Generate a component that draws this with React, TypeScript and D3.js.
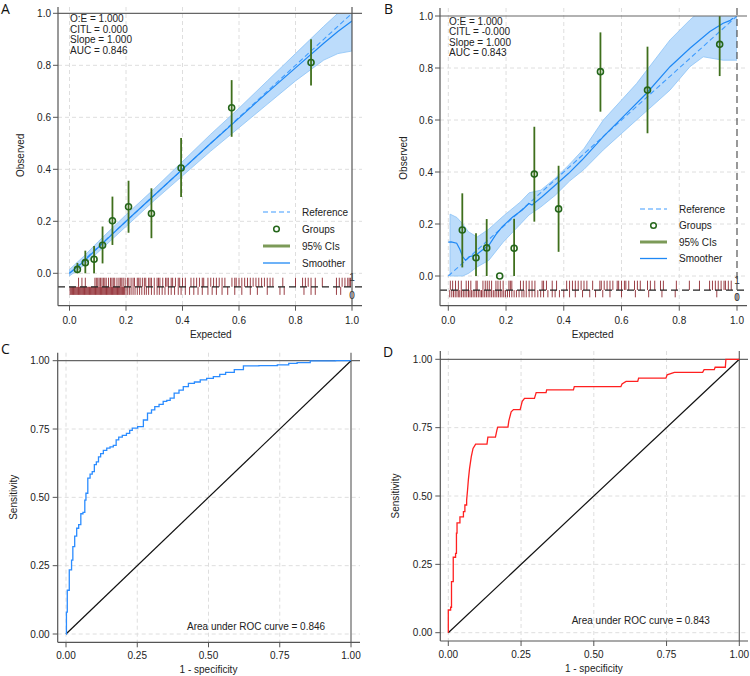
import React from 'react';
import * as d3 from 'd3';

const FONT = '"Liberation Sans", Arial, sans-serif';

// ---- Panel A: calibration (development) ----
const groupXA = [0.028, 0.056, 0.087, 0.117, 0.152, 0.209, 0.29, 0.395, 0.574, 0.855];
const groupYA = [0.015, 0.041, 0.054, 0.108, 0.202, 0.256, 0.23, 0.405, 0.637, 0.811];
const groupLoA = [0.0, 0.0, 0.0, 0.038, 0.109, 0.156, 0.135, 0.293, 0.525, 0.722];
const groupHiA = [0.04, 0.087, 0.105, 0.18, 0.295, 0.356, 0.327, 0.52, 0.743, 0.9];

const smoothXA = [0, 0.05, 0.1, 0.2, 0.3, 0.4, 0.5, 0.6, 0.7, 0.8, 0.9, 0.95, 1.0];
const smoothYA = [0.0, 0.045, 0.098, 0.2, 0.3, 0.4, 0.5, 0.597, 0.695, 0.79, 0.885, 0.93, 0.97];
const bandLoA = [-0.01, 0.03, 0.08, 0.18, 0.28, 0.375, 0.47, 0.56, 0.65, 0.74, 0.82, 0.845, 0.855];
const bandHiA = [0.015, 0.065, 0.12, 0.225, 0.325, 0.43, 0.535, 0.635, 0.74, 0.845, 0.95, 1.0, 1.06];

const rug1A = [0.032, 0.044, 0.056, 0.09, 0.095, 0.1, 0.105, 0.11, 0.115, 0.12, 0.125, 0.13, 0.138, 0.145,
  0.15, 0.155, 0.16, 0.168, 0.175, 0.18, 0.185, 0.19, 0.197, 0.205, 0.21, 0.218, 0.225, 0.23, 0.24, 0.245,
  0.25, 0.258, 0.265, 0.27, 0.28, 0.285, 0.29, 0.3, 0.31, 0.315, 0.32, 0.33, 0.34, 0.345, 0.35, 0.36, 0.365,
  0.375, 0.385, 0.39, 0.4, 0.41, 0.43, 0.44, 0.45, 0.46, 0.47, 0.475, 0.49, 0.5, 0.51, 0.52, 0.53, 0.54, 0.55,
  0.575, 0.585, 0.59, 0.6, 0.61, 0.62, 0.63, 0.64, 0.65, 0.66, 0.67, 0.68, 0.69, 0.7, 0.71, 0.72, 0.755, 0.8,
  0.825, 0.835, 0.845, 0.855, 0.87, 0.895, 0.945, 0.955, 0.965, 0.975, 0.985, 0.99, 0.995];
const rug0A = [0.002, 0.005, 0.008, 0.011, 0.014, 0.017, 0.02, 0.023, 0.026, 0.029, 0.032, 0.035, 0.038,
  0.041, 0.044, 0.047, 0.05, 0.053, 0.056, 0.059, 0.062, 0.065, 0.068, 0.071, 0.074, 0.077, 0.08, 0.083,
  0.086, 0.089, 0.092, 0.095, 0.098, 0.101, 0.104, 0.107, 0.11, 0.113, 0.116, 0.119, 0.122, 0.125, 0.128,
  0.131, 0.134, 0.137, 0.14, 0.143, 0.146, 0.149, 0.152, 0.155, 0.158, 0.161, 0.164, 0.167, 0.17, 0.173,
  0.176, 0.179, 0.182, 0.185, 0.188, 0.191, 0.195, 0.2, 0.206, 0.212, 0.218, 0.225, 0.232, 0.24, 0.248,
  0.256, 0.265, 0.272, 0.28, 0.29, 0.3, 0.31, 0.318, 0.328, 0.338, 0.35, 0.36, 0.372, 0.385, 0.395, 0.41,
  0.425, 0.44, 0.455, 0.47, 0.49, 0.505, 0.52, 0.54, 0.56, 0.585, 0.61, 0.64, 0.665, 0.7, 0.745, 0.76,
  0.83, 0.855, 0.87, 0.945, 0.96];
const statsA = ['O:E = 1.000', 'CITL = 0.000', 'Slope = 1.000', 'AUC = 0.846'];

// ---- Panel B: calibration (validation) ----
const groupXB = [0.0485, 0.096, 0.133, 0.178, 0.228, 0.298, 0.382, 0.527, 0.69, 0.94];
const groupYB = [0.177, 0.07, 0.108, 0.0, 0.107, 0.392, 0.258, 0.786, 0.715, 0.891];
const groupLoB = [0.033, 0.0, 0.0, 0.0, 0.0, 0.209, 0.093, 0.632, 0.549, 0.769];
const groupHiB = [0.318, 0.164, 0.219, 0.0, 0.22, 0.574, 0.424, 0.937, 0.882, 1.0];

const smoothXB = [0, 0.01, 0.029, 0.04, 0.05, 0.06, 0.072, 0.095, 0.118, 0.141, 0.164, 0.187, 0.222, 0.256,
  0.279, 0.29, 0.325, 0.371, 0.417, 0.463, 0.537, 0.606, 0.687, 0.768, 0.837, 0.906, 0.952, 0.975, 0.986];
const smoothYB = [0.13, 0.131, 0.126, 0.103, 0.074, 0.06, 0.074, 0.08, 0.1, 0.119, 0.158, 0.19, 0.226, 0.254,
  0.279, 0.273, 0.305, 0.35, 0.395, 0.446, 0.536, 0.613, 0.703, 0.805, 0.876, 0.94, 0.972, 0.982, 0.991];
const bandXB = [0.006, 0.03, 0.05, 0.07, 0.1, 0.14, 0.19, 0.25, 0.28, 0.32, 0.37, 0.42, 0.47, 0.537, 0.652,
  0.768, 0.837, 0.883, 0.952, 1.0];
const bandLoB = [0.0, 0.0, 0.0, 0.01, 0.035, 0.06, 0.13, 0.2, 0.235, 0.265, 0.31, 0.365, 0.41, 0.485, 0.6,
  0.715, 0.805, 0.843, 0.83, 0.83];
const bandHiB = [0.238, 0.225, 0.2, 0.17, 0.15, 0.18, 0.23, 0.285, 0.32, 0.33, 0.375, 0.43, 0.49, 0.6, 0.74,
  0.908, 0.985, 1.03, 1.08, 1.1];

const rug1B = [0.007, 0.015, 0.025, 0.035, 0.045, 0.062, 0.07, 0.078, 0.096, 0.1, 0.12, 0.128, 0.135, 0.142,
  0.15, 0.165, 0.172, 0.18, 0.19, 0.21, 0.215, 0.22, 0.25, 0.26, 0.27, 0.28, 0.29, 0.3, 0.325, 0.33, 0.34,
  0.36, 0.375, 0.41, 0.42, 0.43, 0.44, 0.45, 0.46, 0.47, 0.48, 0.5, 0.525, 0.53, 0.54, 0.55, 0.56, 0.57,
  0.585, 0.59, 0.6, 0.61, 0.615, 0.625, 0.645, 0.655, 0.665, 0.69, 0.7, 0.715, 0.735, 0.745, 0.79, 0.835,
  0.87, 0.905, 0.915, 0.925, 0.935, 0.945, 0.955, 0.96, 0.97, 0.98];
const rug0B = [0.005, 0.012, 0.018, 0.024, 0.03, 0.036, 0.04, 0.046, 0.052, 0.058, 0.064, 0.07, 0.075, 0.08,
  0.086, 0.092, 0.098, 0.104, 0.11, 0.115, 0.12, 0.126, 0.132, 0.138, 0.144, 0.15, 0.156, 0.162, 0.168,
  0.174, 0.18, 0.186, 0.192, 0.198, 0.205, 0.212, 0.22, 0.228, 0.236, 0.245, 0.255, 0.262, 0.27, 0.28,
  0.29, 0.3, 0.31, 0.32, 0.33, 0.345, 0.36, 0.37, 0.385, 0.4, 0.42, 0.44, 0.465, 0.49, 0.51, 0.535, 0.56,
  0.6, 0.648, 0.694, 0.74, 0.786, 0.93];
const statsB = ['O:E = 1.000', 'CITL = -0.000', 'Slope = 1.000', 'AUC = 0.843'];

// ---- Panel C / D: ROC curves ----
const fprC = [0, 0.003, 0.006, 0.017, 0.022, 0.026, 0.035, 0.04, 0.049, 0.055, 0.064, 0.068, 0.072, 0.081,
  0.088, 0.096, 0.103, 0.11, 0.118, 0.125, 0.137, 0.149, 0.16, 0.172, 0.18, 0.19, 0.205, 0.219, 0.228, 0.237,
  0.266, 0.277, 0.295, 0.305, 0.318, 0.335, 0.347, 0.36, 0.371, 0.388, 0.405, 0.418, 0.441, 0.46, 0.482,
  0.505, 0.529, 0.55, 0.57, 0.611, 0.634, 0.72, 0.763, 0.8, 0.822, 0.892, 1];
const tprC = [0, 0.08, 0.16, 0.235, 0.27, 0.32, 0.358, 0.387, 0.4, 0.44, 0.445, 0.49, 0.515, 0.57, 0.585,
  0.594, 0.62, 0.63, 0.648, 0.66, 0.672, 0.68, 0.685, 0.69, 0.71, 0.72, 0.727, 0.734, 0.745, 0.753, 0.759,
  0.783, 0.808, 0.82, 0.832, 0.84, 0.851, 0.855, 0.863, 0.881, 0.892, 0.905, 0.917, 0.922, 0.93, 0.935,
  0.942, 0.95, 0.957, 0.967, 0.981, 0.982, 0.985, 0.99, 0.993, 0.999, 1];

const fprD = [0, 0, 0.008, 0.008, 0.011, 0.011, 0.017, 0.017, 0.025, 0.025, 0.028, 0.028, 0.03, 0.03, 0.04,
  0.04, 0.052, 0.052, 0.057, 0.057, 0.063, 0.063, 0.066, 0.069, 0.073, 0.079, 0.085, 0.094, 0.133, 0.136,
  0.162, 0.167, 0.17, 0.205, 0.208, 0.216, 0.224, 0.247, 0.254, 0.262, 0.296, 0.302, 0.336, 0.338, 0.43,
  0.433, 0.593, 0.597, 0.611, 0.651, 0.654, 0.748, 0.752, 0.777, 0.874, 0.879, 0.914, 0.917, 0.952, 0.954, 1];
const tprD = [0, 0.083, 0.083, 0.093, 0.093, 0.187, 0.187, 0.276, 0.276, 0.29, 0.29, 0.364, 0.364, 0.402,
  0.402, 0.424, 0.424, 0.443, 0.443, 0.467, 0.467, 0.485, 0.52, 0.56, 0.6, 0.644, 0.674, 0.69, 0.69, 0.715,
  0.715, 0.741, 0.752, 0.752, 0.775, 0.808, 0.816, 0.816, 0.846, 0.857, 0.857, 0.878, 0.878, 0.888, 0.888,
  0.9, 0.9, 0.91, 0.919, 0.919, 0.931, 0.931, 0.943, 0.952, 0.952, 0.962, 0.962, 0.971, 0.971, 1.0, 1.0];

const calTicks = [0, 0.2, 0.4, 0.6, 0.8, 1.0];
const rocTicks = [0, 0.25, 0.5, 0.75, 1.0];

const GRID = '#dedede';
const AXIS = '#555';
const TEXT = '#222';
const RUG = '#8a1f26';

const zip = (xs, ys) => xs.map((x, i) => ({ x, y: ys[i] }));

const CalPanel = ({ g, gx, gy, glo, ghi, sx, sy, bx, blo, bhi, rug1, rug0, stats }) => {
  const x = d3.scaleLinear().domain([0, 1]).range(g.xr);
  const y = d3.scaleLinear().domain([0, 1]).range(g.yr);
  const fmt = d3.format('.1f');
  const band = d3.area()
    .x(d => x(d.x))
    .y0(d => y(d.lo))
    .y1(d => y(d.hi));
  const line = d3.line().x(d => x(d.x)).y(d => y(d.y));
  const bandData = bx.map((v, i) => ({ x: v, lo: blo[i], hi: bhi[i] }));
  const clipId = 'clip' + g.letter;

  return (
    <g fontFamily={FONT}>
      <defs>
        <clipPath id={clipId}>
          <rect x={g.axisX} y={y(1)} width={x(1) - g.axisX} height={g.axisY - y(1)} />
        </clipPath>
      </defs>
      {/* gridlines */}
      {calTicks.slice(0, -1).map(t => (
        <line key={'gx' + t} x1={x(t)} x2={x(t)} y1={g.top} y2={g.axisY} stroke={GRID} strokeDasharray="4,3" />
      ))}
      {calTicks.slice(0, -1).map(t => (
        <line key={'gy' + t} x1={g.axisX} x2={g.right} y1={y(t)} y2={y(t)} stroke={GRID} strokeDasharray="4,3" />
      ))}

      {/* smoother CI band */}
      <g clipPath={`url(#${clipId})`}>
        <path d={band(bandData)} fill="#bcdcfb" stroke="#8cc3f6" strokeWidth={0.8} />
        <path d={line([{ x: 0, y: 0 }, { x: 1, y: 1 }])} stroke="#3f9cff" strokeWidth={1.1} strokeDasharray="5,3" fill="none" />
        <path d={line(zip(sx, sy))} stroke="#1e88f5" strokeWidth={1.2} fill="none" />
      </g>

      {/* groups with CIs */}
      {gx.map((v, i) => (
        <line key={'ci' + i} x1={x(v)} x2={x(v)} y1={y(glo[i])} y2={y(ghi[i])}
          stroke="#3f6f1c" strokeWidth={1.8} />
      ))}
      {gx.map((v, i) => (
        <circle key={'gp' + i} cx={x(v)} cy={y(gy[i])} r={3} fill="none" stroke="#24661a" strokeWidth={1.6} />
      ))}

      {/* rug */}
      {rug0.map((v, i) => (
        <line key={'r0' + i} x1={x(v)} x2={x(v)} y1={y(g.rugLine)} y2={y(g.rugBot)}
          stroke={RUG} strokeOpacity={0.85} strokeWidth={1} />
      ))}
      {rug1.map((v, i) => (
        <line key={'r1' + i} x1={x(v)} x2={x(v)} y1={y(g.rugLine)} y2={y(g.rugTop)}
          stroke={RUG} strokeOpacity={0.85} strokeWidth={1} />
      ))}
      <line x1={g.axisX} x2={g.right} y1={y(g.rugLine)} y2={y(g.rugLine)} stroke="#222" strokeWidth={1.2} strokeDasharray="7,4" />
      <text x={x(1)} y={y(g.rugTop) + 3} fontSize={10} textAnchor="middle" fill={TEXT}>1</text>
      <text x={x(1)} y={y(g.rugBot) + 4} fontSize={10} textAnchor="middle" fill={TEXT}>0</text>

      {/* frame lines at 1 */}
      <line x1={g.axisX} x2={g.right} y1={y(1)} y2={y(1)} stroke="#666" strokeWidth={1.2} />
      <line x1={x(1)} x2={x(1)} y1={g.top} y2={g.axisY} stroke="#555" strokeWidth={1.2}
        strokeDasharray={g.vdash ? '7,4' : undefined} />

      {/* axes */}
      <line x1={g.axisX} x2={g.axisX} y1={g.top} y2={g.axisY} stroke={AXIS} strokeWidth={1.2} />
      <line x1={g.axisX} x2={g.right} y1={g.axisY} y2={g.axisY} stroke={AXIS} strokeWidth={1.2} />
      {calTicks.map(t => (
        <g key={'ty' + t}>
          <line x1={g.axisX - 5} x2={g.axisX} y1={y(t)} y2={y(t)} stroke={AXIS} />
          <text x={g.axisX - 7} y={y(t) + 3.5} fontSize={10} textAnchor="end" fill={TEXT}>{fmt(t)}</text>
        </g>
      ))}
      {calTicks.map(t => (
        <g key={'tx' + t}>
          <line x1={x(t)} x2={x(t)} y1={g.axisY} y2={g.axisY + 5} stroke={AXIS} />
          <text x={x(t)} y={g.axisY + 18} fontSize={10} textAnchor="middle" fill={TEXT}>{fmt(t)}</text>
        </g>
      ))}
      <text x={(x(0) + x(1)) / 2} y={338} fontSize={10} textAnchor="middle" fill={TEXT}>Expected</text>
      <text transform={`translate(${g.obsX},${(y(0) + y(1)) / 2 + 12}) rotate(-90)`} fontSize={10}
        textAnchor="middle" fill={TEXT}>Observed</text>

      {/* stats */}
      {stats.map((s, i) => (
        <text key={s} x={g.statsX} y={g.statsY + i * 10.5} fontSize={10} fill={TEXT}>{s}</text>
      ))}

      {/* legend */}
      <g transform={`translate(${g.legX},${g.legY})`} fontSize={10} fill={TEXT}>
        <line x1={0} x2={27} y1={0} y2={0} stroke="#3f9cff" strokeWidth={1.2} strokeDasharray="5,3" />
        <text x={39} y={3.5}>Reference</text>
        <circle cx={13.5} cy={g.legStep} r={2.8} fill="none" stroke="#24661a" strokeWidth={1.5} />
        <text x={39} y={g.legStep + 3.5}>Groups</text>
        <line x1={0} x2={27} y1={g.legStep * 2} y2={g.legStep * 2} stroke="#7c9a58" strokeWidth={3} />
        <text x={39} y={g.legStep * 2 + 3.5}>95% CIs</text>
        <line x1={0} x2={27} y1={g.legStep * 3} y2={g.legStep * 3} stroke="#1e88f5" strokeWidth={1.3} />
        <text x={39} y={g.legStep * 3 + 3.5}>Smoother</text>
      </g>

      <text x={g.letterX} y={g.letterY} fontSize={14} fontFamily='"Open Sans", sans-serif' fill="#111">{g.letter}</text>
    </g>
  );
};

const RocPanel = ({ g, fpr, tpr, color, curve, auc }) => {
  const x = d3.scaleLinear().domain([0, 1]).range(g.xr);
  const y = d3.scaleLinear().domain([0, 1]).range(g.yr);
  const fmt = d3.format('.2f');
  const line = d3.line().x(d => x(d.x)).y(d => y(d.y)).curve(curve);
  return (
    <g fontFamily={FONT}>
      {rocTicks.slice(0, -1).map(t => (
        <line key={'gx' + t} x1={x(t)} x2={x(t)} y1={g.top} y2={g.axisY} stroke={GRID} strokeDasharray="4,3" />
      ))}
      {rocTicks.slice(0, -1).map(t => (
        <line key={'gy' + t} x1={g.axisX} x2={g.right} y1={y(t)} y2={y(t)} stroke={GRID} strokeDasharray="4,3" />
      ))}
      <line x1={g.axisX} x2={g.right} y1={y(1)} y2={y(1)} stroke="#666" strokeWidth={1.2} />
      <line x1={x(1)} x2={x(1)} y1={g.top} y2={g.axisY} stroke="#666" strokeWidth={1.2} />
      <line x1={x(0)} y1={y(0)} x2={x(1)} y2={y(1)} stroke="#111" strokeWidth={1.2} />
      <path d={line(zip(fpr, tpr))} fill="none" stroke={color} strokeWidth={1.3} />

      <line x1={g.axisX} x2={g.axisX} y1={g.top} y2={g.axisY} stroke={AXIS} strokeWidth={1.2} />
      <line x1={g.axisX} x2={g.right} y1={g.axisY} y2={g.axisY} stroke={AXIS} strokeWidth={1.2} />
      {rocTicks.map(t => (
        <g key={'ty' + t}>
          <line x1={g.axisX - 5} x2={g.axisX} y1={y(t)} y2={y(t)} stroke={AXIS} />
          <text x={g.axisX - 8} y={y(t) + 3.5} fontSize={10} textAnchor="end" fill={TEXT}>{fmt(t)}</text>
        </g>
      ))}
      {rocTicks.map(t => (
        <g key={'tx' + t}>
          <line x1={x(t)} x2={x(t)} y1={g.axisY} y2={g.axisY + 5} stroke={AXIS} />
          <text x={x(t)} y={g.axisY + 17} fontSize={10} textAnchor="middle" fill={TEXT}>{fmt(t)}</text>
        </g>
      ))}
      <text x={(x(0) + x(1)) / 2} y={g.axisY + 31} fontSize={10} textAnchor="middle" fill={TEXT}>1 - specificity</text>
      <text transform={`translate(${g.obsX},${(y(0) + y(1)) / 2}) rotate(-90)`} fontSize={10}
        textAnchor="middle" fill={TEXT}>Sensitivity</text>
      <text x={g.aucX} y={g.aucY} fontSize={10} fill={TEXT}>{auc}</text>
      <text x={g.letterX} y={g.letterY} fontSize={14} fontFamily='"Open Sans", sans-serif' fill="#111">{g.letter}</text>
    </g>
  );
};

const geoA = {
  letter: 'A', letterX: 1, letterY: 14, xr: [69.5, 352], yr: [273.3, 13.3], axisX: 58, axisY: 305.7,
  right: 362, top: 7, rugLine: -0.052, rugTop: -0.017, rugBot: -0.083, vdash: false, obsX: 24,
  statsX: 70, statsY: 22, legX: 263, legY: 212, legStep: 17,
};
const geoB = {
  letter: 'B', letterX: 384, letterY: 14, xr: [448.3, 737], yr: [276, 16], axisX: 440, axisY: 305.7,
  right: 747, top: 8, rugLine: -0.054, rugTop: -0.018, rugBot: -0.082, vdash: true, obsX: 407,
  statsX: 449, statsY: 24.5, legX: 640, legY: 209, legStep: 16.5,
};
const geoC = {
  letter: 'C', letterX: 1, letterY: 354, xr: [66, 351], yr: [634, 360.7], axisX: 57.7, axisY: 642.3,
  right: 360, top: 352.7, obsX: 17, aucX: 187, aucY: 630,
};
const geoD = {
  letter: 'D', letterX: 383, letterY: 357, xr: [448.3, 739.3], yr: [632.7, 359.3], axisX: 440.3, axisY: 641,
  right: 748, top: 351, obsX: 399, aucX: 571.7, aucY: 623.5,
};

export default function App() {
  return (
    <svg width={750} height={676} style={{ position: 'absolute', left: 0, top: 0, background: '#fff' }}>
      <rect width={750} height={676} fill="#fff" />
      <CalPanel g={geoA} gx={groupXA} gy={groupYA} glo={groupLoA} ghi={groupHiA}
        sx={smoothXA} sy={smoothYA} bx={smoothXA} blo={bandLoA} bhi={bandHiA}
        rug1={rug1A} rug0={rug0A} stats={statsA} />
      <CalPanel g={geoB} gx={groupXB} gy={groupYB} glo={groupLoB} ghi={groupHiB}
        sx={smoothXB} sy={smoothYB} bx={bandXB} blo={bandLoB} bhi={bandHiB}
        rug1={rug1B} rug0={rug0B} stats={statsB} />
      <RocPanel g={geoC} fpr={fprC} tpr={tprC} color="#2b8cff" curve={d3.curveStep}
        auc="Area under ROC curve = 0.846" />
      <RocPanel g={geoD} fpr={fprD} tpr={tprD} color="#ff2020" curve={d3.curveLinear}
        auc="Area under ROC curve = 0.843" />
    </svg>
  );
}
